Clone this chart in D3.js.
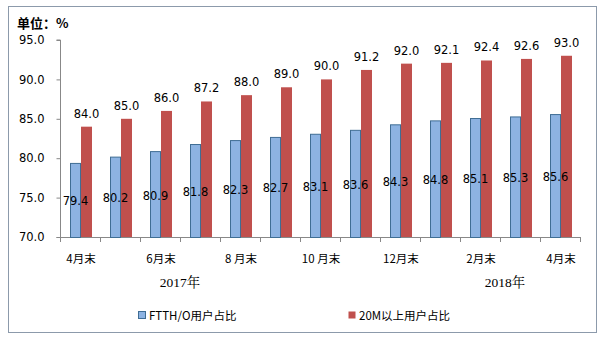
<!DOCTYPE html>
<html><head><meta charset="utf-8">
<script src="https://cdn.jsdelivr.net/npm/d3@7"></script>
<style>
html,body{margin:0;padding:0;background:#fff;}
svg{display:block;}
</style></head>
<body>
<svg id="chart" width="603" height="340"></svg>
<script>
// Monthly share of broadband users (%)
const months = ["4月末","5月末","6月末","7月末","8 月末","9月末","10 月末","11月末","12月末","1月末","2月末","3月末","4月末"];
const ftthShare = [79.4, 80.2, 80.9, 81.8, 82.3, 82.7, 83.1, 83.6, 84.3, 84.8, 85.1, 85.3, 85.6];
const over20MShare = [84.0, 85.0, 86.0, 87.2, 88.0, 89.0, 90.0, 91.2, 92.0, 92.1, 92.4, 92.6, 93.0];
const yTicks = [70, 75, 80, 85, 90, 95];
const years = ["2017年", "2018年"];
const seriesNames = ["FTTH/O用户占比", "20M以上用户占比"];

const svg = d3.select("#chart");
const font = "'DejaVu Sans', Verdana, sans-serif";
const plotL = 61, plotR = 581, plotT = 40, plotB = 237;

// outer frame
svg.append("rect").attr("x", 8.5).attr("y", 6.5).attr("width", 588).attr("height", 326)
  .attr("fill", "#fff").attr("stroke", "#8c9aab").attr("stroke-width", 1);

svg.append("text").attr("x", 17).attr("y", 28).text("单位：%")
  .attr("font-family", "'Noto Sans CJK SC', sans-serif").attr("font-weight", "bold")
  .attr("font-size", 13).attr("fill", "#000");

const x = d3.scaleBand().domain(d3.range(months.length)).range([plotL, plotR]);
const y = d3.scaleLinear().domain([70, 95]).range([plotB, plotT]);
const barW = 11;

// y axis
const yAxis = svg.append("g").attr("transform", `translate(${plotL - 0.5},0)`)
  .call(d3.axisLeft(y).tickValues(yTicks).tickFormat(d3.format(".1f")).tickSize(4).tickPadding(12));
yAxis.select(".domain").attr("stroke", "#888").attr("d", `M-4,${plotB + 0.5}H0V${plotT}H-4`);
yAxis.selectAll(".tick line").attr("stroke", "#888");
yAxis.selectAll("text").attr("font-family", font).attr("font-size", 11.5).attr("fill", "#000");

// x axis baseline and ticks at band boundaries
const xg = svg.append("g");
xg.append("line").attr("x1", plotL - 1).attr("x2", plotR).attr("y1", plotB + 0.5).attr("y2", plotB + 0.5)
  .attr("stroke", "#888");
xg.selectAll("line.tk").data(d3.range(months.length + 1)).join("line").attr("class", "tk")
  .attr("x1", i => Math.round(plotL + i * x.bandwidth()) - 0.5)
  .attr("x2", i => Math.round(plotL + i * x.bandwidth()) - 0.5)
  .attr("y1", plotB).attr("y2", plotB + 5).attr("stroke", "#888");

// bars
const g = svg.append("g");
g.selectAll("rect.ftth").data(ftthShare).join("rect").attr("class", "ftth")
  .attr("x", (d, i) => x(i) + x.bandwidth() / 2 - barW + 0.5)
  .attr("y", d => y(d) + 0.5).attr("width", barW - 1).attr("height", d => plotB - y(d))
  .attr("fill", "#8db3e2").attr("stroke", "#3f6d94").attr("stroke-width", 1);
g.selectAll("rect.m20").data(over20MShare).join("rect").attr("class", "m20")
  .attr("x", (d, i) => x(i) + x.bandwidth() / 2)
  .attr("y", d => y(d)).attr("width", barW).attr("height", d => plotB - y(d))
  .attr("fill", "#c0504d");

// value labels
g.selectAll("text.lf").data(ftthShare).join("text").attr("class", "lf")
  .attr("x", (d, i) => x(i) + x.bandwidth() / 2 - barW / 2)
  .attr("y", d => (y(d) + plotB) / 2 + 5.5)
  .attr("text-anchor", "middle").attr("font-family", font).attr("font-size", 11.5).attr("fill", "#000")
  .text(d => d.toFixed(1));
g.selectAll("text.lm").data(over20MShare).join("text").attr("class", "lm")
  .attr("x", (d, i) => x(i) + x.bandwidth() / 2 + barW / 2)
  .attr("y", d => y(d) - 9)
  .attr("text-anchor", "middle").attr("font-family", font).attr("font-size", 11.5).attr("fill", "#000")
  .text(d => d.toFixed(1));

// month labels, every other month
svg.selectAll("text.mo").data(months.map((m, i) => ({m, i})).filter(d => d.i % 2 === 0)).join("text")
  .attr("class", "mo")
  .attr("x", d => x(d.i) + x.bandwidth() / 2).attr("y", 263)
  .attr("text-anchor", "middle").attr("font-family", "'Noto Sans CJK SC', sans-serif")
  .attr("font-size", 11.5).attr("fill", "#000").text(d => d.m);

// year labels
const yearX = [180, 505];
svg.selectAll("text.yr").data(years).join("text").attr("class", "yr")
  .attr("x", (d, i) => yearX[i]).attr("y", 287)
  .attr("text-anchor", "middle").attr("font-family", "'Liberation Serif', 'Noto Serif CJK SC', serif")
  .attr("font-size", 13.5).attr("fill", "#000").text(d => d);

// legend
const legend = [{name: seriesNames[0], fill: "#8db3e2", stroke: "#3f6d94", x: 138},
                {name: seriesNames[1], fill: "#c0504d", stroke: "none", x: 348}];
const lg = svg.selectAll("g.lg").data(legend).join("g").attr("class", "lg")
  .attr("transform", d => `translate(${d.x},0)`);
lg.append("rect").attr("x", 0.5).attr("y", 311.5).attr("width", 7).attr("height", 7)
  .attr("fill", d => d.fill).attr("stroke", d => d.stroke);
lg.append("text").attr("x", 11).attr("y", 320).attr("font-family", "'Noto Sans CJK SC', sans-serif")
  .attr("font-size", 11.5).attr("fill", "#000").text(d => d.name);
</script>
</body></html>
